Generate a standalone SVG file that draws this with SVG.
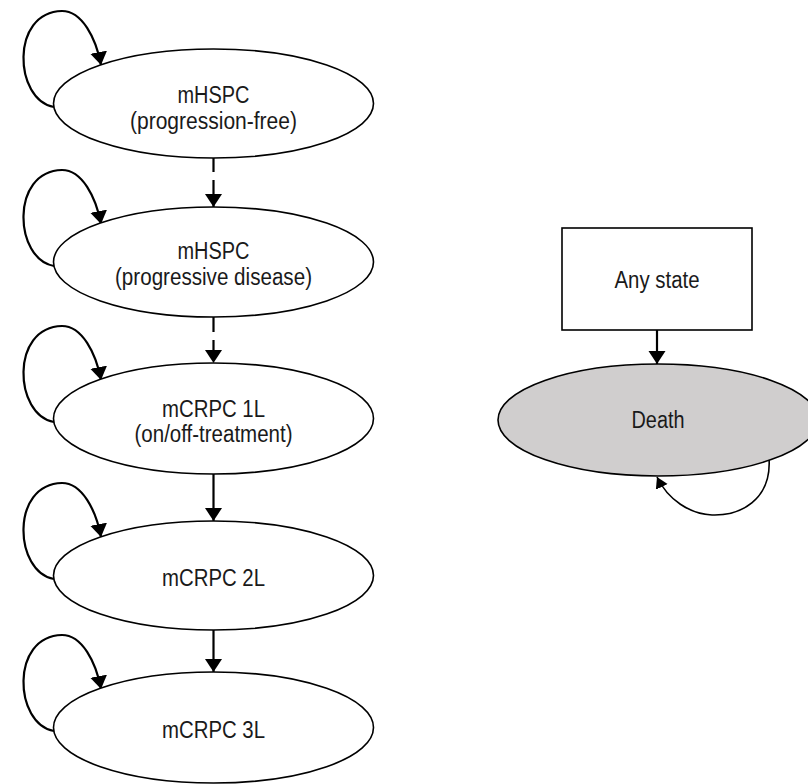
<svg xmlns="http://www.w3.org/2000/svg" width="808" height="784" viewBox="0 0 808 784">
<defs>
<style>
.st{fill:#fff;stroke:#000;stroke-width:1.6}
.death{fill:#d0cece;stroke:#000;stroke-width:1.6}
.lbl{font-family:"Liberation Sans",Arial,sans-serif;font-size:23px;fill:#1a1a1a;text-anchor:middle}
.c{fill:none;stroke:#000;stroke-width:2.2}
.thin{fill:none;stroke:#000;stroke-width:1.6}
.dash{stroke-dasharray:14 8}
</style>
<marker id="ah" markerUnits="userSpaceOnUse" markerWidth="14" markerHeight="18" refX="13" refY="8.5" orient="auto">
<path d="M0,0 L13,8.5 L0,17 z" fill="#000"/>
</marker>
<marker id="ahs" markerUnits="userSpaceOnUse" markerWidth="12" markerHeight="14" refX="11" refY="6.5" orient="auto">
<path d="M0,0 L11,6.5 L0,13 z" fill="#000"/>
</marker>
</defs>
<rect width="808" height="784" fill="#fff"/>
<g id="connectors">
<path class="c dash" d="M213.5,158 V207" marker-end="url(#ah)"/>
<path class="c" style="stroke-dasharray:15 8" d="M213.5,317 V363" marker-end="url(#ah)"/>
<path class="c" d="M213.5,474 V521" marker-end="url(#ah)"/>
<path class="c" d="M213.5,630 V672" marker-end="url(#ah)"/>
<path class="c" d="M54,107 C14,100 10,12 62,11 C82,11 96,38 101,65" marker-end="url(#ah)"/>
<path class="c" d="M54,266 C14,259 10,171 62,170 C82,170 96,197 101,224" marker-end="url(#ah)"/>
<path class="c" d="M54,422 C14,415 10,327 62,326 C82,326 96,353 101,380" marker-end="url(#ah)"/>
<path class="c" d="M54,579 C14,572 10,484 62,483 C82,483 96,510 101,537" marker-end="url(#ah)"/>
<path class="c" d="M54,731 C14,724 10,636 62,635 C82,635 96,662 101,689" marker-end="url(#ah)"/>
<path class="c" d="M657,330 V364" marker-end="url(#ah)"/>
<path class="thin" d="M769,458 C772,500 740,516 712,515 C690,514 668,500 657,477" marker-end="url(#ahs)"/>
</g>
<g id="n1">
<ellipse class="st" cx="213.5" cy="103.5" rx="160" ry="54.5"/>
<text class="lbl" x="213.5" y="103" textLength="72" lengthAdjust="spacingAndGlyphs">mHSPC</text>
<text class="lbl" x="213.5" y="129" textLength="167" lengthAdjust="spacingAndGlyphs">(progression-free)</text>
</g>
<g id="n2">
<ellipse class="st" cx="213.5" cy="262" rx="160" ry="55"/>
<text class="lbl" x="213.5" y="259" textLength="72" lengthAdjust="spacingAndGlyphs">mHSPC</text>
<text class="lbl" x="213.5" y="285" textLength="197" lengthAdjust="spacingAndGlyphs">(progressive disease)</text>
</g>
<g id="n3">
<ellipse class="st" cx="213.5" cy="418.5" rx="160" ry="55.5"/>
<text class="lbl" x="213.5" y="417" textLength="103" lengthAdjust="spacingAndGlyphs">mCRPC 1L</text>
<text class="lbl" x="213.5" y="442" textLength="158" lengthAdjust="spacingAndGlyphs">(on/off-treatment)</text>
</g>
<g id="n4">
<ellipse class="st" cx="213.5" cy="575.5" rx="160" ry="54.5"/>
<text class="lbl" x="213.5" y="586" textLength="103" lengthAdjust="spacingAndGlyphs">mCRPC 2L</text>
</g>
<g id="n5">
<ellipse class="st" cx="213.5" cy="727.5" rx="160" ry="55.5"/>
<text class="lbl" x="213.5" y="738" textLength="103" lengthAdjust="spacingAndGlyphs">mCRPC 3L</text>
</g>
<g id="any">
<rect class="st" x="562" y="228" width="190" height="102"/>
<text class="lbl" x="657" y="288" textLength="85" lengthAdjust="spacingAndGlyphs">Any state</text>
</g>
<g id="death">
<ellipse class="death" cx="658" cy="420" rx="160" ry="56"/>
<text class="lbl" x="658" y="428" textLength="53" lengthAdjust="spacingAndGlyphs">Death</text>
</g>
</svg>
